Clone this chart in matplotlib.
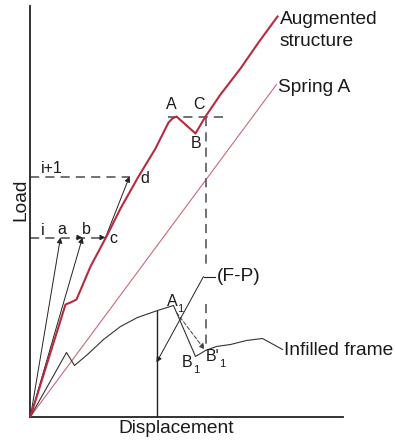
import matplotlib
matplotlib.use("Agg")
import matplotlib.pyplot as plt

plt.rcParams['font.family'] = ['Liberation Sans', 'DejaVu Sans']

# load-displacement of the augmented structure (frame + spring A)
aug_disp = [0, 35, 40, 46, 60, 76, 90, 108, 125, 138, 142, 146, 165, 175, 190, 210, 228, 247]
aug_load = [0, 112, 114, 117, 150, 180, 208, 240, 268, 294, 298, 300, 283, 300, 322, 348, 374, 400]

# linear spring A
spring_disp = [0, 246]
spring_load = [0, 332]

# infilled frame alone
frame_disp = [0, 36, 44, 57, 73, 90, 107, 127, 143, 165, 175, 186, 200, 216, 232, 252]
frame_load = [0, 64, 51, 62, 77, 90, 99, 106, 111, 60, 66, 70, 72, 76, 78, 67]

# iteration points on load levels i and i+1
level_i = 179
level_i1 = 240
pt_a = (30, 179)
pt_b = (52, 179)
pt_c = (75, 179)
pt_d = (99, 240)

# peak A / recovery C level
peak_load = 300
peak_dash = (137, 194)
c_disp = 175
c_drop = [(300, 148), (113, 66)]

# frame points A1 -> B'1, and the (F-P) unloading
a1_start = (146, 104)
b1p = (174, 67)
fp_disp = 126
fp_load = 106
fp_tip = (126, 54)
fp_elbow = (173, 140)
fp_end = (184, 140)

RED = '#b82a40'
PINK = '#c86a78'
DARK = '#333333'
GREY = '#4a4a4a'

fig = plt.figure(figsize=(3.95, 4.4), dpi=100)
ax = fig.add_axes([30.5 / 395, 23.5 / 440, 312.5 / 395, 410.5 / 440])
ax.set_xlim(0, 312.5)
ax.set_ylim(0, 410.5)
for s in ['top', 'right']:
    ax.spines[s].set_visible(False)
for s in ['left', 'bottom']:
    ax.spines[s].set_linewidth(1.3)
    ax.spines[s].set_color('#222222')
ax.set_xticks([])
ax.set_yticks([])

# curves
ax.plot(spring_disp, spring_load, color=PINK, lw=0.8, clip_on=False)
ax.plot(frame_disp, frame_load, color=DARK, lw=0.8, clip_on=False)
ax.plot(aug_disp, aug_load, color=RED, lw=1.5, clip_on=False, zorder=4)

# dashed load levels
dash = dict(color=GREY, lw=1.1, dashes=(6, 4))
ax.plot([0, pt_c[0]], [level_i, level_i], **dash)
ax.plot([0, pt_d[0]], [level_i1, level_i1], **dash)
ax.plot(peak_dash, [peak_load, peak_load], **dash)
for top, bot in c_drop:
    ax.plot([c_disp, c_disp], [top, bot], **dash)

arrow = dict(arrowstyle='-|>', color='#222222', lw=0.7, mutation_scale=8,
             shrinkA=0, shrinkB=0)
for p in (pt_a, pt_b):
    ax.annotate('', xy=p, xytext=(0, 0), arrowprops=arrow)
ax.annotate('', xy=pt_b, xytext=(pt_b[0] - 5, pt_b[1]), arrowprops=arrow)
ax.annotate('', xy=pt_c, xytext=(pt_c[0] - 5, pt_c[1]), arrowprops=arrow)
ax.annotate('', xy=pt_d, xytext=pt_c, arrowprops=arrow)

# frame unloading and (F-P) pointer
ax.plot([fp_disp, fp_disp], [0, fp_load], color='#222222', lw=1.0)
ax.annotate('', xy=b1p, xytext=a1_start,
            arrowprops=dict(arrow, linestyle=(0, (4, 2)), color='#444444'))
ax.plot([fp_end[0], fp_elbow[0]], [fp_end[1], fp_elbow[1]], color='#222222', lw=0.8)
ax.annotate('', xy=fp_tip, xytext=fp_elbow, arrowprops=arrow)

big = dict(fontsize=13.8, color='#1a1a1a', clip_on=False)
small = dict(fontsize=11.5, color='#1a1a1a', ha='center', va='center')
sub = dict(fontsize=8, color='#1a1a1a', ha='center', va='center')

ax.text(249, 397, 'Augmented', va='center', **big)
ax.text(249, 375, 'structure', va='center', **big)
ax.text(247, 329, 'Spring A', va='center', **big)
ax.text(186, 140, '(F-P)', va='center', **big)
ax.text(254, 66, 'Infilled frame', va='center', **big)

ax.text(21, 248, 'i+1', **small)
ax.text(12, 186, 'i', **small)
ax.text(31, 187, 'a', **small)
ax.text(56, 187, 'b', **small)
ax.text(83, 178, 'c', **small)
ax.text(114, 238, 'd', **small)
ax.text(141, 312, 'A', **small)
ax.text(169, 312, 'C', **small)
ax.text(166, 273, 'B', **small)

ax.text(142, 115, 'A', **small)
ax.text(150, 108, '1', **sub)
ax.text(157, 54, 'B', **small)
ax.text(166, 47, '1', **sub)
ax.text(182, 60, "B'", **small)
ax.text(192, 53, '1', **sub)

ax.text(-10, 217, 'Load', rotation=90, ha='center', va='center', **big)
ax.text(146, -12, 'Displacement', ha='center', va='center', **big)

fig.savefig('out.png', dpi=100)
